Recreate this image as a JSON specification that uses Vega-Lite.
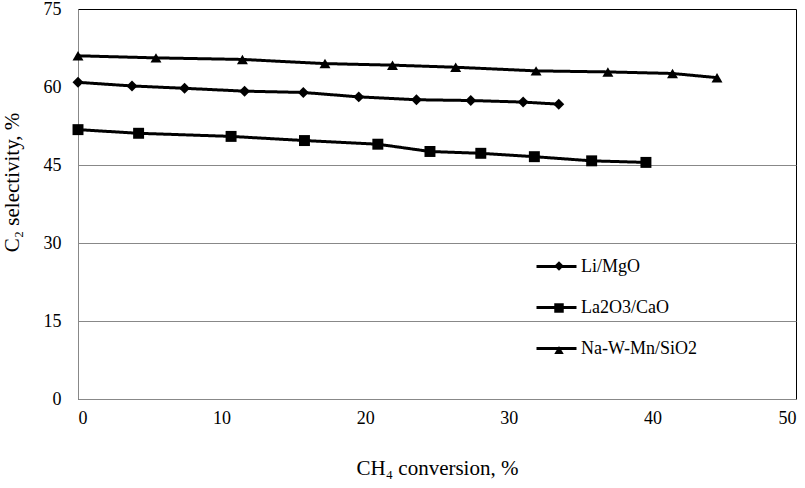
{
  "$schema": "https://vega.github.io/schema/vega-lite/v6.json",
  "width": 718,
  "height": 390,
  "autosize": {"type": "none"},
  "padding": {"left": 78, "top": 9, "right": 9, "bottom": 89},
  "background": "white",
  "config": {
    "view": {"stroke": "#000000", "strokeWidth": 1},
    "font": "Liberation Serif, Times New Roman, serif"
  },
  "data": {
    "values": [
      {"s": "Li/MgO", "x": 0, "y": 60.9},
      {"s": "Li/MgO", "x": 3.76, "y": 60.2},
      {"s": "Li/MgO", "x": 7.42, "y": 59.75},
      {"s": "Li/MgO", "x": 11.6, "y": 59.2},
      {"s": "Li/MgO", "x": 15.69, "y": 58.95},
      {"s": "Li/MgO", "x": 19.55, "y": 58.1},
      {"s": "Li/MgO", "x": 23.57, "y": 57.55},
      {"s": "Li/MgO", "x": 27.35, "y": 57.4},
      {"s": "Li/MgO", "x": 31.0, "y": 57.1},
      {"s": "Li/MgO", "x": 33.48, "y": 56.7},
      {"s": "La2O3/CaO", "x": 0, "y": 51.8},
      {"s": "La2O3/CaO", "x": 4.22, "y": 51.1},
      {"s": "La2O3/CaO", "x": 10.66, "y": 50.5},
      {"s": "La2O3/CaO", "x": 15.77, "y": 49.7},
      {"s": "La2O3/CaO", "x": 20.88, "y": 49.0},
      {"s": "La2O3/CaO", "x": 24.51, "y": 47.6},
      {"s": "La2O3/CaO", "x": 28.05, "y": 47.25},
      {"s": "La2O3/CaO", "x": 31.78, "y": 46.6},
      {"s": "La2O3/CaO", "x": 35.77, "y": 45.8},
      {"s": "La2O3/CaO", "x": 39.55, "y": 45.5},
      {"s": "Na-W-Mn/SiO2", "x": 0, "y": 66.0},
      {"s": "Na-W-Mn/SiO2", "x": 5.43, "y": 65.6},
      {"s": "Na-W-Mn/SiO2", "x": 11.45, "y": 65.3},
      {"s": "Na-W-Mn/SiO2", "x": 17.2, "y": 64.5},
      {"s": "Na-W-Mn/SiO2", "x": 21.9, "y": 64.2},
      {"s": "Na-W-Mn/SiO2", "x": 26.3, "y": 63.8},
      {"s": "Na-W-Mn/SiO2", "x": 31.9, "y": 63.1},
      {"s": "Na-W-Mn/SiO2", "x": 36.9, "y": 62.9},
      {"s": "Na-W-Mn/SiO2", "x": 41.4, "y": 62.6},
      {"s": "Na-W-Mn/SiO2", "x": 44.5, "y": 61.8}
    ]
  },
  "encoding": {
    "x": {
      "field": "x", "type": "quantitative",
      "scale": {"domain": [0, 50], "nice": false, "zero": false},
      "axis": {
        "title": "CH₄ conversion, %",
        "values": [0, 10, 20, 30, 40, 50],
        "grid": false, "ticks": false,
        "domainColor": "#888888",
        "labelFontSize": 18, "labelColor": "#000000",
        "labelPadding": 10,
        "titleFontSize": 21, "titleFontWeight": "normal", "titleColor": "#000000",
        "titlePadding": 30
      }
    },
    "y": {
      "field": "y", "type": "quantitative",
      "scale": {"domain": [0, 75], "nice": false},
      "axis": {
        "title": "C₂ selectivity, %",
        "values": [0, 15, 30, 45, 60, 75],
        "grid": true,
        "gridColor": "#888888",
        "gridOpacity": {"condition": {"test": "datum.value >= 60", "value": 0}, "value": 1},
        "ticks": false,
        "domainColor": "#888888",
        "labelFontSize": 18, "labelColor": "#000000",
        "labelPadding": 17,
        "titleFontSize": 21, "titleFontWeight": "normal", "titleColor": "#000000",
        "titleY": 173,
        "titlePadding": 21
      }
    }
  },
  "layer": [
    {
      "mark": {"type": "line", "color": "#000000", "strokeWidth": 3},
      "encoding": {
        "strokeDash": {
          "field": "s", "type": "nominal",
          "sort": ["Li/MgO", "La2O3/CaO", "Na-W-Mn/SiO2"],
          "scale": {"range": [[1, 0], [1, 0], [1, 0]]},
          "legend": {
            "title": null,
            "orient": "none",
            "legendX": 457,
            "legendY": 236,
            "symbolType": "stroke",
            "symbolSize": 1600,
            "symbolStrokeWidth": 3,
            "symbolStrokeColor": "#000000",
            "labelFontSize": 18,
            "labelColor": "#000000",
            "labelOffset": 3,
            "rowPadding": 10
          }
        }
      }
    },
    {
      "mark": {"type": "point", "filled": true, "color": "#000000", "opacity": 1, "size": 120},
      "encoding": {
        "shape": {
          "field": "s", "type": "nominal",
          "scale": {"domain": ["Li/MgO", "La2O3/CaO", "Na-W-Mn/SiO2"], "range": ["diamond", "square", "triangle-up"]},
          "legend": {
            "title": null,
            "orient": "none",
            "legendX": 472,
            "legendY": 248,
            "labelFontSize": 18,
            "labelExpr": "''",
            "symbolSize": 90,
            "symbolFillColor": "#000000",
            "symbolStrokeColor": "#000000",
            "symbolOpacity": 1,
            "rowPadding": 24,
            "labelOffset": 18
          }
        }
      }
    }
  ]
}
